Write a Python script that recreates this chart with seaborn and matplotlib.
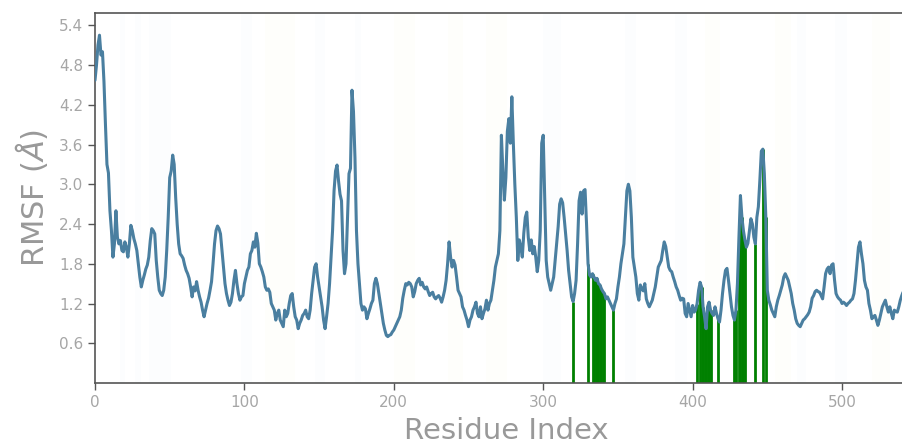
import numpy as np
import pandas as pd
import matplotlib
matplotlib.use("Agg")
import matplotlib.pyplot as plt
import seaborn as sns

# Per-residue RMSF (Angstrom), residue 0 onwards
rmsf = [
    4.57, 4.80, 5.10, 5.25, 4.95, 5.00, 4.55, 3.90, 3.30, 3.17,  # 0
    2.60, 2.30, 1.90, 2.10, 2.60, 2.20, 2.10, 2.15, 2.00, 1.98,  # 10
    2.13, 2.05, 1.90, 2.10, 2.38, 2.30, 2.18, 2.10, 2.00, 1.80,  # 20
    1.60, 1.45, 1.55, 1.63, 1.72, 1.78, 1.90, 2.15, 2.33, 2.30,  # 30
    2.25, 1.85, 1.60, 1.40, 1.35, 1.32, 1.40, 1.60, 2.00, 2.50,  # 40
    3.10, 3.20, 3.44, 3.30, 2.80, 2.40, 2.10, 1.95, 1.92, 1.88,  # 50
    1.78, 1.70, 1.65, 1.58, 1.45, 1.30, 1.45, 1.39, 1.53, 1.40,  # 60
    1.30, 1.22, 1.10, 1.00, 1.10, 1.20, 1.28, 1.40, 1.53, 1.80,  # 70
    2.10, 2.30, 2.37, 2.33, 2.25, 2.00, 1.75, 1.50, 1.35, 1.25,  # 80
    1.17, 1.22, 1.35, 1.55, 1.70, 1.50, 1.35, 1.25, 1.30, 1.32,  # 90
    1.50, 1.60, 1.70, 1.75, 1.95, 2.00, 2.13, 2.05, 2.26, 2.11,  # 100
    1.80, 1.75, 1.68, 1.60, 1.45, 1.40, 1.42, 1.37, 1.20, 1.15,  # 110
    1.10, 0.95, 1.05, 1.10, 0.95, 0.90, 0.85, 1.10, 1.00, 1.05,  # 120
    1.20, 1.32, 1.35, 1.15, 1.00, 0.95, 0.82, 0.90, 0.95, 1.02,  # 130
    1.05, 1.10, 1.00, 0.97, 1.10, 1.35, 1.55, 1.75, 1.80, 1.60,  # 140
    1.45, 1.30, 1.15, 0.95, 0.82, 1.00, 1.20, 1.50, 1.90, 2.30,  # 150
    2.90, 3.20, 3.29, 3.05, 2.85, 2.75, 2.00, 1.65, 1.80, 2.50,  # 160
    3.16, 3.24, 4.42, 4.10, 3.40, 2.30, 1.80, 1.50, 1.20, 1.10,  # 170
    1.15, 1.12, 0.97, 1.05, 1.12, 1.20, 1.25, 1.50, 1.58, 1.50,  # 180
    1.35, 1.20, 1.05, 0.90, 0.80, 0.72, 0.70, 0.72, 0.73, 0.77,  # 190
    0.80, 0.85, 0.90, 0.95, 1.00, 1.10, 1.28, 1.40, 1.50, 1.48,  # 200
    1.52, 1.50, 1.45, 1.30, 1.38, 1.50, 1.55, 1.58, 1.48, 1.52,  # 210
    1.45, 1.42, 1.45, 1.38, 1.32, 1.35, 1.37, 1.30, 1.27, 1.30,  # 220
    1.32, 1.28, 1.22, 1.30, 1.40, 1.55, 1.80, 2.13, 1.90, 1.75,  # 230
    1.85, 1.78, 1.60, 1.40, 1.35, 1.30, 1.15, 1.10, 1.02, 0.95,  # 240
    0.85, 0.95, 1.00, 1.10, 1.15, 1.22, 1.05, 1.00, 1.15, 0.97,  # 250
    1.05, 1.12, 1.25, 1.10, 1.20, 1.25, 1.40, 1.55, 1.75, 1.85,  # 260
    1.95, 2.30, 3.74, 3.20, 2.76, 3.10, 3.80, 3.99, 3.62, 4.32,  # 270
    3.62, 3.00, 2.50, 1.85, 2.16, 2.05, 1.90, 2.26, 2.50, 2.58,  # 280
    2.20, 2.00, 2.16, 1.95, 2.06, 1.90, 1.68, 1.85, 2.30, 3.62,  # 290
    3.74, 2.76, 1.85, 1.60, 1.50, 1.40, 1.50, 1.60, 1.85, 2.10,  # 300
    2.36, 2.70, 2.78, 2.72, 2.50, 2.25, 2.00, 1.70, 1.50, 1.30,  # 310
    1.23, 1.35, 1.55, 2.10, 2.75, 2.88, 2.55, 2.90, 2.92, 2.40,  # 320
    1.80, 1.63, 1.60, 1.65, 1.60, 1.55, 1.58, 1.50, 1.48, 1.42,  # 330
    1.38, 1.35, 1.27, 1.30, 1.25, 1.20, 1.15, 1.10, 1.20, 1.27,  # 340
    1.45, 1.60, 1.80, 1.95, 2.10, 2.50, 2.90, 3.00, 2.90, 2.50,  # 350
    1.90, 1.75, 1.60, 1.35, 1.25, 1.48, 1.42, 1.39, 1.50, 1.27,  # 360
    1.20, 1.15, 1.20, 1.25, 1.35, 1.45, 1.60, 1.75, 1.80, 1.85,  # 370
    2.00, 2.13, 2.06, 1.90, 1.75, 1.70, 1.68, 1.60, 1.53, 1.45,  # 380
    1.40, 1.32, 1.25, 1.28, 1.27, 1.05, 1.00, 1.20, 1.10, 1.00,  # 390
    1.17, 1.07, 1.10, 1.20, 1.40, 1.52, 1.45, 1.15, 1.00, 0.82,  # 400
    1.15, 1.22, 1.10, 1.05, 1.02, 1.15, 1.05, 0.97, 0.92, 1.10,  # 410
    1.35, 1.55, 1.70, 1.73, 1.55, 1.35, 1.15, 1.02, 0.95, 1.10,  # 420
    1.50, 2.20, 2.83, 2.50, 2.30, 2.16, 2.05, 2.11, 2.30, 2.48,  # 430
    2.40, 2.20, 2.10, 2.50, 2.66, 3.06, 3.50, 3.53, 3.16, 2.50,  # 440
    1.40, 1.25, 1.18, 1.10, 1.05, 1.00, 1.15, 1.25, 1.32, 1.40,  # 450
    1.48, 1.60, 1.65, 1.60, 1.55, 1.45, 1.35, 1.20, 1.10, 0.97,  # 460
    0.90, 0.87, 0.85, 0.90, 0.95, 0.97, 1.00, 1.03, 1.07, 1.15,  # 470
    1.28, 1.32, 1.38, 1.40, 1.38, 1.37, 1.32, 1.27, 1.45, 1.65,  # 480
    1.72, 1.75, 1.65, 1.78, 1.80, 1.55, 1.35, 1.30, 1.27, 1.25,  # 490
    1.20, 1.22, 1.20, 1.17, 1.20, 1.22, 1.25, 1.27, 1.35, 1.55,  # 500
    1.80, 2.05, 2.13, 1.95, 1.80, 1.55, 1.45, 1.40, 1.20, 1.10,  # 510
    0.97, 1.00, 1.02, 0.95, 0.87, 0.95, 1.05, 1.15, 1.20, 1.25,  # 520
    1.15, 1.07, 1.15, 1.05, 0.97, 1.10, 1.08, 1.07, 1.15, 1.25,  # 530
    1.32, 1.38,                                                  # 540
]
residues = np.arange(len(rmsf))

# Residues in contact with the ligand
contacts = [320, 330, 333, 334, 335, 336, 337, 338, 339, 340, 341, 347,
            403, 405, 406, 407, 408, 409, 410, 411, 412, 417,
            428, 429, 431, 432, 433, 434, 435, 442, 447, 449]

# Secondary-structure shading (start, end residue)
helix_spans = [(17, 20), (27, 31), (36, 51), (98, 105), (147, 154), (174, 178),
               (300, 312), (355, 362), (388, 396), (470, 476), (495, 503)]
strand_spans = [(114, 134), (200, 214), (236, 246), (262, 276), (408, 418),
                (455, 466), (520, 532)]

df = pd.DataFrame({"Residue": residues, "RMSF": rmsf})

sns.set_style("ticks")
plt.rcParams["font.family"] = ["DejaVu Sans"]

fig = plt.figure(figsize=(9.03, 4.45), dpi=100)
ax = fig.add_axes([95 / 903, 62 / 445, 0.91, 370 / 445])

for a, b in helix_spans:
    ax.axvspan(a, b, color="#a9cfe6", alpha=0.025, lw=0, zorder=0)
for a, b in strand_spans:
    ax.axvspan(a, b, color="#f3e7a2", alpha=0.04, lw=0, zorder=0)

heights = [rmsf[r] for r in contacts]
ax.vlines(contacts, 0, heights, color="#008000", lw=2.0, zorder=2)

sns.lineplot(data=df, x="Residue", y="RMSF", ax=ax, color="#4a7fa0",
             lw=2.2, zorder=3)

ax.set_xlim(0, 550)
ax.set_ylim(0, 5.585)
ax.set_yticks([0.6, 1.2, 1.8, 2.4, 3.0, 3.6, 4.2, 4.8, 5.4])
ax.set_xticks([0, 100, 200, 300, 400, 500])

ax.set_xlabel("Residue Index", fontsize=21, color="#999999", labelpad=5)
ax.set_ylabel(r"RMSF ($\AA$)", fontsize=22, color="#999999", labelpad=6)

ax.tick_params(axis="both", labelsize=11, labelcolor="#a6a6a6", color="#555555",
               length=5, width=1, direction="out")
for side in ["left", "bottom", "top", "right"]:
    ax.spines[side].set_color("#555555")
    ax.spines[side].set_linewidth(1.2)
ax.set_facecolor("white")

fig.savefig("out.png", dpi=100)
